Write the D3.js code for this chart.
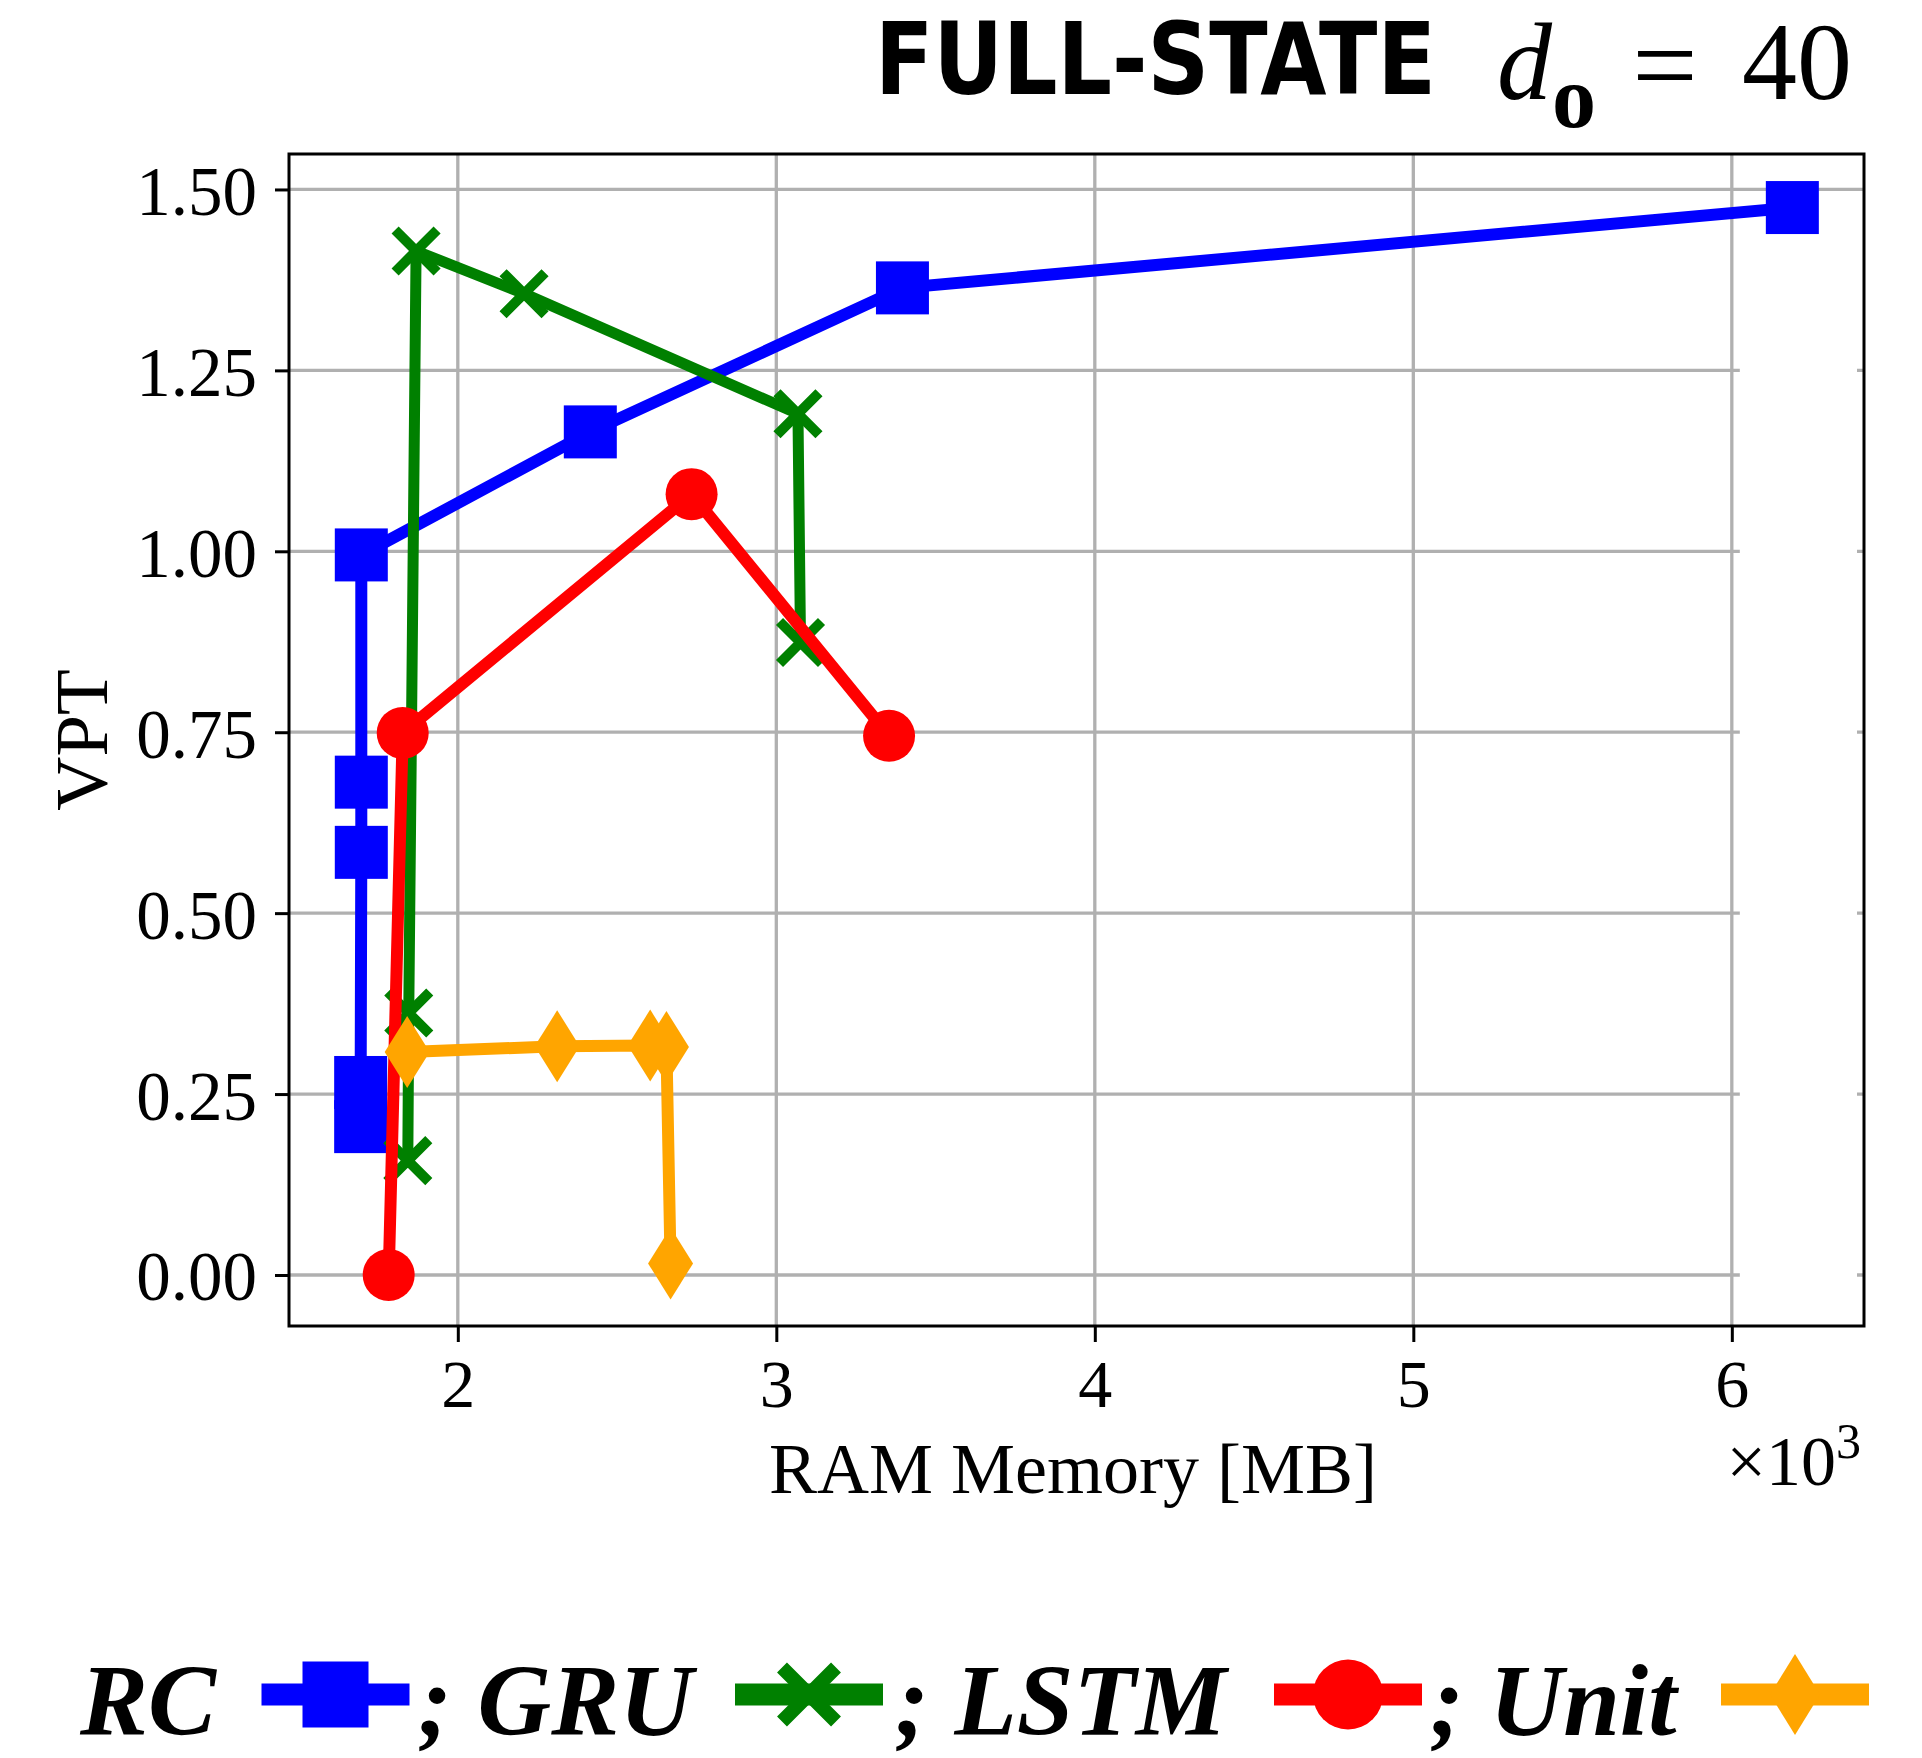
<!DOCTYPE html>
<html>
<head>
<meta charset="utf-8">
<script src="https://cdn.jsdelivr.net/npm/d3@7"></script>
<style>
  html, body { margin: 0; padding: 0; background: #fff; }
  svg { display: block; }
</style>
</head>
<body>
<svg id="chart" width="1922" height="1758"></svg>
<script>
// RAM memory (thousands of MB) and VPT for each model family
const rcMem   = [1.695, 1.695, 1.697, 1.697, 1.697, 2.416, 3.396, 6.190];
const rcVpt   = [0.205, 0.266, 0.584, 0.681, 0.995, 1.165, 1.364, 1.475];

const gruMem  = [1.843, 1.846, 1.869, 2.208, 3.068, 3.076];
const gruVpt  = [0.158, 0.362, 1.415, 1.356, 1.190, 0.874];

const lstmMem = [1.783, 1.827, 2.734, 3.354];
const lstmVpt = [0.000, 0.749, 1.079, 0.745];

const unitMem = [1.841, 2.312, 2.604, 2.655, 2.668];
const unitVpt = [0.308, 0.316, 0.317, 0.315, 0.016];

const xTicks = [2, 3, 4, 5, 6];
const yTicks = [0.00, 0.25, 0.50, 0.75, 1.00, 1.25, 1.50];

const legendLabels = ["RC", "; GRU", "; LSTM", "; Unit"];

const series = [
  { name: "RC",   mem: rcMem,   vpt: rcVpt,   color: "#0000ff", marker: "square",  lw: 12 },
  { name: "GRU",  mem: gruMem,  vpt: gruVpt,  color: "#008000", marker: "x",       lw: 11 },
  { name: "LSTM", mem: lstmMem, vpt: lstmVpt, color: "#ff0000", marker: "circle",  lw: 12 },
  { name: "Unit", mem: unitMem, vpt: unitVpt, color: "#ffa500", marker: "diamond", lw: 12 }
];

const svg = d3.select("#chart");
svg.append("rect").attr("width", 1922).attr("height", 1758).attr("fill", "#fff");

const plot = { left: 289, right: 1864, top: 154, bottom: 1326 };
const x = d3.scaleLinear().domain([1.47, 6.415]).range([plot.left, plot.right]);
const y = d3.scaleLinear().domain([-0.0705, 1.549]).range([plot.bottom, plot.top]);

const serif = "'Liberation Serif', 'Times New Roman', serif";

// grid
const grid = svg.append("g").attr("stroke", "#b0b0b0").attr("stroke-width", 3.3);
grid.selectAll("line.gx").data(xTicks).join("line")
  .attr("x1", d => x(d)).attr("x2", d => x(d))
  .attr("y1", plot.top).attr("y2", plot.bottom);
grid.selectAll("line.gy").data(yTicks).join("line")
  .attr("x1", plot.left).attr("x2", plot.right)
  .attr("y1", d => y(d)).attr("y2", d => y(d));

// blank inset area along the right edge, below the top grid line
const insetTop = (y(1.5) + y(1.25)) / 2 + 40;
svg.append("rect")
  .attr("x", x(6) + 8).attr("y", insetTop)
  .attr("width", plot.right - 7 - (x(6) + 8))
  .attr("height", plot.bottom - 2 - insetTop)
  .attr("fill", "#fff");

// marker shapes
function drawMarker(g, type, cx, cy, color, s) {
  if (type === "square") {
    g.append("rect").attr("x", cx - s.sq / 2).attr("y", cy - s.sq / 2)
      .attr("width", s.sq).attr("height", s.sq).attr("fill", color);
  } else if (type === "circle") {
    g.append("circle").attr("cx", cx).attr("cy", cy).attr("r", s.r).attr("fill", color);
  } else if (type === "diamond") {
    g.append("path")
      .attr("d", `M${cx},${cy - s.dh / 2}L${cx + s.dw / 2},${cy}L${cx},${cy + s.dh / 2}L${cx - s.dw / 2},${cy}Z`)
      .attr("fill", color);
  } else if (type === "x") {
    const h = s.xh;
    g.append("path")
      .attr("d", `M${cx - h},${cy - h}L${cx + h},${cy + h}M${cx - h},${cy + h}L${cx + h},${cy - h}`)
      .attr("stroke", color).attr("stroke-width", s.xw).attr("fill", "none");
  }
}

const plotMarker = { sq: 53, r: 26, dw: 45, dh: 72, xh: 21, xw: 10 };
const line = d3.line().x(d => x(d[0])).y(d => y(d[1]));

series.forEach(s => {
  const pts = s.mem.map((m, i) => [m, s.vpt[i]]);
  const g = svg.append("g");
  g.append("path").attr("d", line(pts))
    .attr("fill", "none").attr("stroke", s.color)
    .attr("stroke-width", s.lw).attr("stroke-linejoin", "miter");
  pts.forEach(p => drawMarker(g, s.marker, x(p[0]), y(p[1]), s.color, plotMarker));
});

// frame
svg.append("rect")
  .attr("x", plot.left).attr("y", plot.top)
  .attr("width", plot.right - plot.left).attr("height", plot.bottom - plot.top)
  .attr("fill", "none").attr("stroke", "#000").attr("stroke-width", 3);

// axes
const xAxis = svg.append("g").attr("transform", `translate(0,${plot.bottom})`)
  .call(d3.axisBottom(x).tickValues(xTicks).tickSize(16).tickSizeOuter(0).tickFormat(d3.format("d")));
xAxis.select(".domain").remove();
xAxis.selectAll(".tick line").attr("stroke", "#000").attr("stroke-width", 3);
xAxis.selectAll(".tick text")
  .attr("y", 81).attr("dy", null)
  .attr("font-family", serif).attr("font-size", 68).attr("fill", "#000");

const yAxis = svg.append("g").attr("transform", `translate(${plot.left},0)`)
  .call(d3.axisLeft(y).tickValues(yTicks).tickSize(14).tickSizeOuter(0).tickFormat(d3.format(".2f")));
yAxis.select(".domain").remove();
yAxis.selectAll(".tick line").attr("stroke", "#000").attr("stroke-width", 3);
yAxis.selectAll(".tick text")
  .attr("x", -32).attr("dy", 25)
  .attr("font-family", serif).attr("font-size", 69).attr("fill", "#000");

// axis labels
svg.append("text").attr("x", 1073).attr("y", 1493).attr("text-anchor", "middle")
  .attr("font-family", serif).attr("font-size", 72).text("RAM Memory [MB]");

const mult = svg.append("text").attr("x", 1861).attr("y", 1485).attr("text-anchor", "end")
  .attr("font-family", serif).attr("font-size", 70);
mult.append("tspan").text("×10");
mult.append("tspan").attr("font-size", 50).attr("dy", -27).text("3");

svg.append("text").attr("transform", "translate(107,740) rotate(-90)")
  .attr("text-anchor", "middle").attr("font-family", serif).attr("font-size", 75).text("VPT");

// title: bold heading narrowed to its column, then the math part
const head = svg.append("text")
  .attr("font-family", "'DejaVu Sans Condensed', 'DejaVu Sans', sans-serif")
  .attr("font-weight", "bold").attr("font-size", 99)
  .text("FULL-STATE");
const headW = head.node().getComputedTextLength();
head.attr("transform", `translate(875,94) scale(${561 / headW},1)`);

svg.append("text").attr("x", 1497).attr("y", 99)
  .attr("font-family", serif).attr("font-style", "italic").attr("font-size", 110).text("d");
svg.append("text").attr("x", 1552).attr("y", 127)
  .attr("font-family", serif).attr("font-weight", "bold").attr("font-size", 88).text("o");
svg.append("text").attr("x", 1665).attr("y", 104).attr("text-anchor", "middle")
  .attr("font-family", serif).attr("font-size", 116).text("=");
svg.append("text").attr("x", 1852).attr("y", 99).attr("text-anchor", "end")
  .attr("font-family", serif).attr("font-size", 110).text("40");

// legend: label then handle for each series
const legendTextX = [80, 418, 895, 1430];
const legendHandleX = [335.5, 809, 1348, 1795];
const legendY = 1694.5;
const legendMarker = { sq: 66, r: 35, dw: 50, dh: 81, xh: 27, xw: 14 };
series.forEach((s, i) => {
  svg.append("text").attr("x", legendTextX[i]).attr("y", 1735)
    .attr("font-family", serif).attr("font-weight", "bold").attr("font-style", "italic")
    .attr("font-size", 102).style("white-space", "pre")
    .text(legendLabels[i]);
  const g = svg.append("g");
  g.append("line")
    .attr("x1", legendHandleX[i] - 74).attr("x2", legendHandleX[i] + 74)
    .attr("y1", legendY).attr("y2", legendY)
    .attr("stroke", s.color).attr("stroke-width", 22);
  drawMarker(g, s.marker, legendHandleX[i], legendY, s.color, legendMarker);
});
</script>
</body>
</html>
